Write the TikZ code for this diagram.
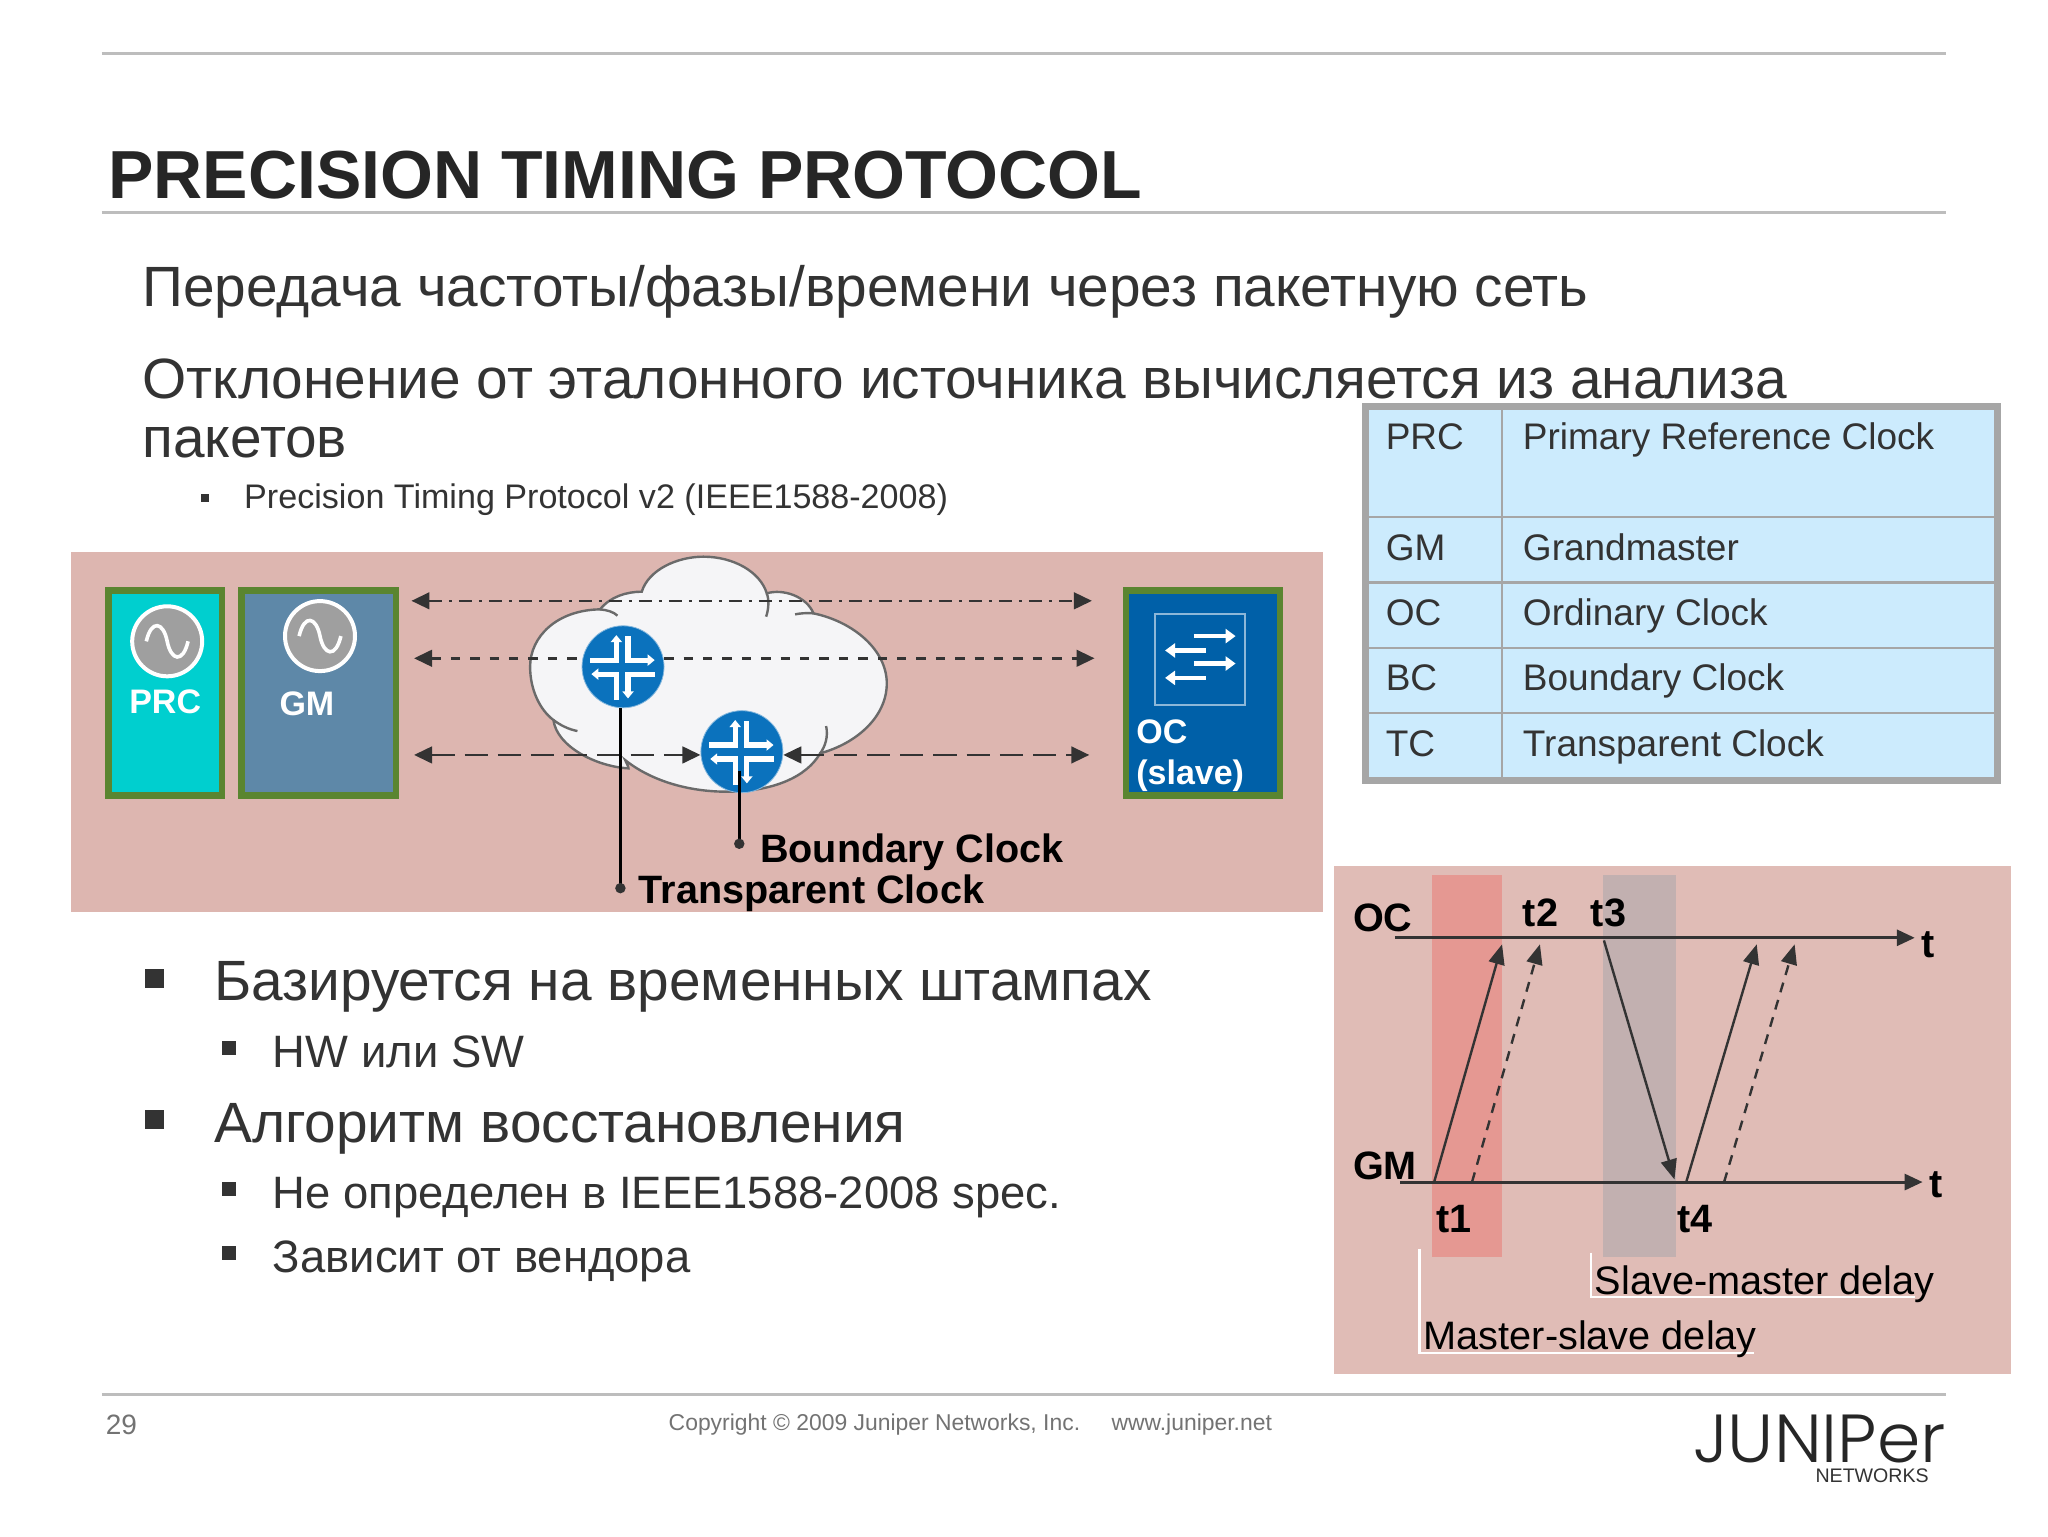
\documentclass[tikz,border=0pt]{standalone}
\usepackage{fontspec}
\setmainfont{Liberation Sans}
\newfontfamily\logofont{Poppins Light}
\usetikzlibrary{arrows.meta}
\definecolor{ink}{HTML}{333333}
\definecolor{rulegrey}{HTML}{BDBDBD}
\definecolor{panelA}{HTML}{DDB6B0}
\definecolor{panelB}{HTML}{E0BCB6}
\definecolor{boxgreen}{HTML}{5A8530}
\definecolor{tblfill}{HTML}{CCEBFD}
\definecolor{tblline}{HTML}{A6A6A6}
\definecolor{rtblue}{HTML}{0B72BD}
\definecolor{prcfill}{HTML}{00CFCF}
\definecolor{gmfill}{HTML}{5E88A8}
\definecolor{ocfill}{HTML}{0060A8}
\definecolor{cloudline}{HTML}{6A6A6A}
\definecolor{cloudfill}{HTML}{F5F5F7}
\tikzset{
  txt/.style={anchor=base west,inner sep=0pt,outer sep=0pt,text=ink},
  head/.style={txt,font=\fontsize{28.4}{28.4}\selectfont},
  subhead/.style={txt,font=\fontsize{22.7}{22.7}\selectfont},
  tbl/.style={txt,font=\fontsize{18.5}{18.5}\selectfont},
  lab/.style={txt,text=black,font=\bfseries\fontsize{19.8}{19.8}\selectfont},
  wlab/.style={txt,text=white,font=\bfseries\fontsize{17}{17}\selectfont},
  plain/.style={txt,text=black,font=\fontsize{19.85}{19.85}\selectfont},
  foot/.style={txt,text=gray!90!black,font=\fontsize{11.45}{11.45}\selectfont},
  sq/.style={fill=ink,inner sep=0pt,minimum size=#1},
  rulel/.style={rulegrey,line width=1.5pt},
  unit/.style={draw=boxgreen,line width=3.2pt},
  clockc/.style={circle,fill=gray!75,draw=white,line width=2pt,minimum size=35pt,inner sep=0pt},
  router/.style={circle,fill=rtblue,draw=rtblue!50!white,line width=.4pt,minimum size=41pt,inner sep=0pt},
  both/.style={ink,line width=1.3pt,{Triangle[length=9pt,width=8.3pt]}-{Triangle[length=9pt,width=8.3pt]}},
  one/.style={ink,line width=1.2pt,-{Triangle[length=10pt,width=8pt]}},
  axis/.style={ink,line width=1.5pt,-{Triangle[length=9pt,width=8pt]}},
  wht/.style={white,line width=1.3pt},
  rarr/.style={white,line width=2.6pt,-{Triangle[length=3.5pt,width=5.5pt]}},
  oarr/.style={white,line width=2.2pt,-{Triangle[length=5pt,width=7pt]}},
  sine/.style={white,line width=1.8pt},
  pics/routermark/.style={code={
    \begin{scope}[x=0.16667pt,y=-0.16667pt]
      \draw[rarr] (-98,-20) -- (-20,-20) -- (-20,-95);
      \draw[rarr] (15,-92) -- (15,-20) -- (95,-20);
      \draw[rarr] (-20,100) -- (-20,22) -- (-95,22);
      \draw[rarr] (95,22) -- (15,22) -- (15,95);
    \end{scope}}},
  pics/sinewave/.style={code={
    \draw[sine] (-16,0) .. controls (-12,-17) and (-3,-15) .. (0,0) .. controls (3,15) and (12,17) .. (16,0);}}
}
\begin{document}
\begin{tikzpicture}[x=0.65306pt,y=-0.65306pt]
\useasboundingbox (0,0) rectangle (1568,1176);
\fill[white] (0,0) rectangle (1568,1176);
% rules
\coordinate (r1a) at (78,41); \coordinate (r1b) at (1490,41);
\coordinate (r2a) at (78,163); \coordinate (r2b) at (1490,163);
\coordinate (r3a) at (78,1068); \coordinate (r3b) at (1490,1068);
\draw[rulel] (r1a) -- (r1b);
\draw[rulel] (r2a) -- (r2b);
\draw[rulel] (r3a) -- (r3b);
% title and body
\node[txt,text=black!85,font=\bfseries\fontsize{34}{34}\selectfont] (title) at (83,152) {PRECISION TIMING PROTOCOL};
\node[head] (l1) at (109,235) {Передача частоты/фазы/времени через пакетную сеть};
\node[head] (l2) at (109,305) {Отклонение от эталонного источника вычисляется из анализа};
\node[head] (l3) at (109,350) {пакетов};
\node[sq=4pt] (b0) at (157,381) {};
\node[txt,font=\fontsize{17.05}{17.05}\selectfont] (l4) at (187,389) {Precision Timing Protocol v2 (IEEE1588-2008)};
% left panel
\fill[panelA] (54,423) rectangle (1013,698);
\draw[unit,fill=prcfill] (83,452) rectangle (170,609);
\draw[unit,fill=gmfill] (185,452) rectangle (303,609);
\draw[unit,fill=ocfill] (862,452) rectangle (980,609);
\node[clockc] (prcclock) at (128,491) {};
\pic at (prcclock) {sinewave};
\node[clockc] (gmclock) at (245,487) {};
\pic at (gmclock) {sinewave};
\node[wlab] (prc) at (99,546) {PRC};
\node[wlab] (gm) at (214,548) {GM};
\node[wlab] (oc) at (870,569) {OC};
\node[wlab] (slave) at (870,601) {(slave)};
\draw[draw=white!55!ocfill,line width=.9pt,fill=ocfill] (884,470) rectangle (953,540);
\coordinate (o1a) at (914,487); \coordinate (o1b) at (946,487);
\coordinate (o2a) at (923,498); \coordinate (o2b) at (892,498);
\coordinate (o3a) at (914,508); \coordinate (o3b) at (946,508);
\coordinate (o4a) at (923,519); \coordinate (o4b) at (892,519);
\draw[oarr] (o1a) -- (o1b);
\draw[oarr] (o2a) -- (o2b);
\draw[oarr] (o3a) -- (o3b);
\draw[oarr] (o4a) -- (o4b);
% cloud (local frame)
\begin{scope}[shift={(398.2,421.1)},x=0.16667pt,y=-0.16667pt]
  \draw[draw=cloudline,line width=1.2pt,fill=cloudfill]
    (365,125) .. controls (385,60) and (470,20) .. (550,20)
    .. controls (640,20) and (720,65) .. (740,130)
    .. controls (790,115) and (860,140) .. (880,190)
    .. controls (1000,215) and (1100,300) .. (1100,400)
    .. controls (1100,500) and (1010,580) .. (900,610)
    .. controls (860,680) and (760,725) .. (620,725)
    .. controls (500,725) and (390,690) .. (315,630)
    .. controls (320,640) and (325,650) .. (325,655)
    .. controls (230,650) and (110,590) .. (100,510)
    .. controls (60,480) and (30,420) .. (30,350)
    .. controls (30,260) and (110,180) .. (240,178)
    .. controls (270,140) and (320,125) .. (365,125) -- cycle;
  \draw[draw=cloudline,line width=1.2pt]
    (100,510) .. controls (120,525) and (145,538) .. (172,543);
  \draw[draw=cloudline,line width=1.2pt]
    (240,178) .. controls (260,180) and (280,185) .. (292,197);
  \draw[draw=cloudline,line width=1.2pt]
    (740,130) .. controls (748,150) and (745,180) .. (738,200);
  \draw[draw=cloudline,line width=1.2pt]
    (880,190) .. controls (860,188) and (840,190) .. (825,193);
  \draw[draw=cloudline,line width=1.2pt]
    (918,528) .. controls (925,560) and (915,590) .. (900,610);
\end{scope}
% timing arrows
\coordinate (a1l) at (315,460); \coordinate (a1r) at (836,460);
\coordinate (a2l) at (317,504); \coordinate (a2r) at (838,504);
\coordinate (a3l) at (317,578); \coordinate (a3r) at (834,578);
\draw[both,dash pattern=on 6.7pt off 3.3pt on 1.7pt off 3.3pt] (a1l) -- (a1r);
\draw[both,dash pattern=on 4.7pt off 5pt] (a2l) -- (a2r);
% routers
\node[router] (tc) at (477,510.5) {};
\pic at (tc) {routermark};
\node[router] (bc) at (568,575.5) {};
\draw[both,dash pattern=on 11.6pt off 5pt] (a3l) -- (bc.west |- a3l);
\draw[both,dash pattern=on 11.6pt off 5pt] (bc.east |- a3r) -- (a3r);
\pic at (bc) {routermark};
% callouts
\coordinate (tcdot) at (475,680);
\coordinate (bcdot) at (566,646);
\coordinate (bcin) at (566,590);
\draw[black,line width=1.3pt] (tc.south -| tcdot) -- (tcdot);
\draw[black,line width=1.3pt] (bcin) -- (bcdot);
\fill[ink] (tcdot) circle[radius=4];
\fill[ink] (bcdot) circle[radius=4];
\node[lab] (bclab) at (582,660) {Boundary Clock};
\node[lab] (tclab) at (489,692) {Transparent Clock};
% table
\draw[tblline,line width=3.4pt,fill=tblfill] (1045.5,311.5) rectangle (1529.5,597.5);
\coordinate (v1) at (1150,311); \coordinate (v2) at (1150,598);
\coordinate (h1a) at (1045,396); \coordinate (h1b) at (1530,396);
\coordinate (h2a) at (1045,446); \coordinate (h2b) at (1530,446);
\coordinate (h3a) at (1045,496); \coordinate (h3b) at (1530,496);
\coordinate (h4a) at (1045,546); \coordinate (h4b) at (1530,546);
\draw[tblline,line width=1.2pt] (v1) -- (v2);
\draw[tblline,line width=1.2pt] (h1a) -- (h1b);
\draw[tblline,line width=1.2pt] (h2a) -- (h2b);
\draw[tblline,line width=1.2pt] (h3a) -- (h3b);
\draw[tblline,line width=1.2pt] (h4a) -- (h4b);
\node[tbl] (t1a) at (1061,344) {PRC};
\node[tbl] (t1b) at (1166,344) {Primary Reference Clock};
\node[tbl] (t2a) at (1061,429) {GM};
\node[tbl] (t2b) at (1166,429) {Grandmaster};
\node[tbl] (t3a) at (1061,479) {OC};
\node[tbl] (t3b) at (1166,479) {Ordinary Clock};
\node[tbl] (t4a) at (1061,529) {BC};
\node[tbl] (t4b) at (1166,529) {Boundary Clock};
\node[tbl] (t5a) at (1061,579) {TC};
\node[tbl] (t5b) at (1166,579) {Transparent Clock};
% right panel
\fill[panelB] (1021,663) rectangle (1540,1052);
\fill[fill={rgb,255:red,229;green,152;blue,146}] (1096,670) rectangle (1150,962);
\fill[fill={rgb,255:red,194;green,176;blue,176}] (1227,670) rectangle (1283,962);
\coordinate (ocs) at (1068,718); \coordinate (oce) at (1466,718);
\coordinate (gms) at (1072,905); \coordinate (gme) at (1472,905);
\draw[axis] (ocs) -- (oce);
\draw[axis] (gms) -- (gme);
\coordinate (d1a) at (1098,905); \coordinate (d1b) at (1150,723);
\coordinate (d2a) at (1127,905); \coordinate (d2b) at (1179,723);
\coordinate (d3a) at (1228,720); \coordinate (d3b) at (1282,903);
\coordinate (d4a) at (1291,905); \coordinate (d4b) at (1345,723);
\coordinate (d5a) at (1320,905); \coordinate (d5b) at (1374,723);
\draw[one] (d1a) -- (d1b);
\draw[one,dash pattern=on 5pt off 4pt] (d2a) -- (d2b);
\draw[one] (d3a) -- (d3b);
\draw[one] (d4a) -- (d4b);
\draw[one,dash pattern=on 5pt off 4pt] (d5a) -- (d5b);
\node[lab] (oclab) at (1036,713) {OC};
\node[lab] (gmlab) at (1036,903) {GM};
\node[lab] (t2) at (1166,709) {t2};
\node[lab] (t3) at (1218,709) {t3};
\node[lab] (t1) at (1100,944) {t1};
\node[lab] (t4) at (1284,944) {t4};
\node[lab] (tu) at (1471,733) {t};
\node[lab] (tl) at (1477,917) {t};
\coordinate (s1) at (1218,959); \coordinate (s2) at (1218,993); \coordinate (s3) at (1466,993);
\coordinate (m1) at (1087,956); \coordinate (m2) at (1087,1036); \coordinate (m3) at (1343,1036);
\draw[wht] (s1) -- (s2) -- (s3);
\draw[wht] (m1) -- (m2) -- (m3);
\node[plain] (sm) at (1221,991) {Slave-master delay};
\node[plain] (ms) at (1090,1033) {Master-slave delay};
% lower bullets
\node[sq=9.5pt] (b1) at (118,749) {};
\node[head] (i1) at (164,766) {Базируется на временных штампах};
\node[sq=7pt] (b2) at (175,802) {};
\node[subhead] (i2) at (209,817) {HW или SW};
\node[sq=9.5pt] (b3) at (118,857) {};
\node[head] (i3) at (164,875) {Алгоритм восстановления};
\node[sq=7pt] (b4) at (175,910) {};
\node[subhead] (i4) at (209,925) {Не определен в IEEE1588-2008 spec.};
\node[sq=7pt] (b5) at (175,959) {};
\node[subhead] (i5) at (209,974) {Зависит от вендора};
% footer
\node[foot,font=\fontsize{14}{14}\selectfont] (pg) at (81,1098) {29};
\node[foot] (cp) at (512,1095) {Copyright © 2009 Juniper Networks, Inc.};
\node[foot] (web) at (851,1095) {www.juniper.net};
\node[inner sep=0pt,anchor=base west,xscale=1.025,text=black!85,text depth=0pt,font=\logofont\fontsize{34}{34}\selectfont] (logo) at (1296,1120) {JUNIPer};
\node[txt,font=\fontsize{9.8}{9.8}\selectfont] (nets) at (1390,1135) {NETWORKS};
\end{tikzpicture}
\end{document}
